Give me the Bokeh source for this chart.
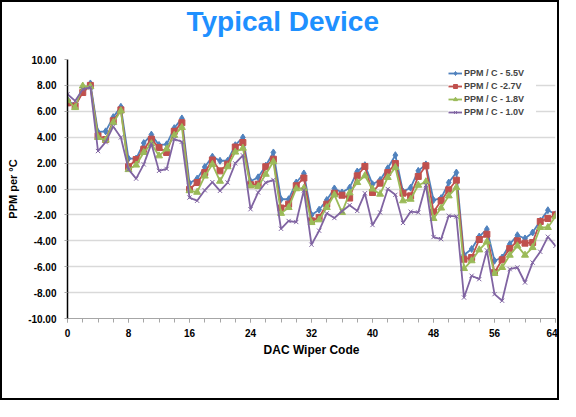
from bokeh.plotting import figure
from bokeh.models import (Range1d, SingleIntervalTicker, PrintfTickFormatter,
                          Legend, LegendItem, Title, ColumnDataSource)
from bokeh.embed import file_html
from bokeh.resources import INLINE

codes = list(range(65))

ppm_5v5 = [6.9, 6.4, 7.6, 8.15, 4.4, 4.45, 5.55, 6.35, 2.35, 2.35,
           3.55, 4.2, 3.4, 3.45, 4.7, 5.45, 0.45, 0.8, 1.7, 2.5,
           2.18, 2.18, 3.38, 3.98, 0.6, 0.9, 1.8, 2.82, -0.79, -0.79,
           0.5, 1.2, -2.0, -1.6, -0.85, 0.04, -0.27, 0.1, 1.35, 1.84,
           0.37, 0.7, 1.6, 2.61, -0.2, 0.1, 1.4, 1.9, -0.85, -0.7,
           0.5, 1.27, -5.1, -4.63, -3.67, -3.1, -5.54, -5.29, -4.26, -3.57,
           -3.82, -3.36, -2.46, -1.64, -1.95]

ppm_2v7 = [6.65, 6.42, 7.45, 8.0, 4.1, 3.82, 5.27, 6.11, 1.72, 2.27,
           3.07, 3.85, 3.2, 2.82, 4.45, 5.12, -0.03, 0.5, 1.27, 2.24,
           1.4, 1.92, 3.24, 3.59, 0.33, 0.37, 1.72, 2.3, -1.47, -1.17,
           0.25, 0.85, -2.46, -2.2, -1.17, -0.33, -0.48, -0.7, 1.02, 1.74,
           -0.27, 0.45, 1.27, 1.97, -0.32, -0.53, 0.97, 1.79, -1.78, -0.9,
           -0.06, 0.68, -5.42, -5.29, -3.9, -3.49, -6.45, -5.47, -4.6, -4.0,
           -4.18, -4.13, -2.51, -2.28, -1.99]

ppm_1v8 = [6.85, 6.29, 7.95, 7.9, 3.98, 3.78, 5.13, 6.04, 1.5, 1.85,
           2.82, 3.5, 2.56, 3.1, 4.15, 4.75, -0.13, -0.25, 1.0, 1.9,
           0.6, 1.72, 2.85, 3.15, 0.25, 0.2, 1.14, 2.1, -1.88, -1.43,
           0.02, 0.06, -2.59, -2.38, -1.43, -0.45, -1.81, -0.3, 0.5, 1.02,
           0.0, -0.4, 0.89, 1.66, -0.91, -0.79, 0.29, 0.56, -2.28, -1.47,
           -0.53, 0.12, -6.14, -5.54, -4.7, -4.08, -6.52, -6.06, -5.11, -4.39,
           -5.11, -4.52, -2.97, -2.97, -2.12]

ppm_1v0 = [7.32, 6.8, 7.7, 7.84, 2.93, 3.62, 4.83, 3.98, 1.52, 0.8,
           1.9, 3.5, 1.4, 1.55, 3.85, 3.65, -0.66, -0.91, -0.1, 0.53,
           -0.14, 0.5, 1.98, 2.6, -1.56, -0.27, 0.5, 0.7, -3.07, -2.47,
           -2.55, -0.1, -4.3, -3.22, -1.88, -2.24, -1.72, -1.25, -1.69, -0.33,
           -2.78, -1.81, 0.0, -0.45, -2.62, -1.75, -1.81, 0.3, -3.71, -3.87,
           -2.07, -2.12, -8.38, -6.7, -6.96, -4.74, -8.12, -8.63, -6.19, -6.06,
           -7.22, -5.68, -4.85, -3.69, -4.39]

series_names = ["PPM / C - 5.5V", "PPM / C -2.7V", "PPM / C - 1.8V", "PPM / C - 1.0V"]

p = figure(width=559, height=400, x_range=Range1d(0, 64), y_range=Range1d(-10, 10),
           output_backend="svg", toolbar_location=None,
           min_border_left=65, min_border_right=6, min_border_top=57, min_border_bottom=84)
p.styles = {"border": "2px solid black"}
p.outline_line_color = None

# spacer between frame and title (closest to the frame), then the title
spacer = Title(text=" ", text_font_size="1px", standoff=20)
p.add_layout(spacer, "above")
t = Title(text="Typical Device", text_font="Liberation Sans", text_font_size="28px",
          text_font_style="bold", text_color="#1E90FF", align="left", offset=119, standoff=0)
p.add_layout(t, "above")

# axes
p.xaxis.ticker = SingleIntervalTicker(interval=8, num_minor_ticks=4)
p.yaxis.ticker = SingleIntervalTicker(interval=2, num_minor_ticks=0)
p.yaxis.formatter = PrintfTickFormatter(format="%.2f")
p.xgrid.visible = False
p.ygrid.grid_line_color = "#d9d9d9"
p.ygrid.grid_line_width = 1.5

for ax in (p.xaxis[0], p.yaxis[0]):
    ax.major_label_text_font = "Liberation Sans"
    ax.major_label_text_font_style = "bold"
    ax.major_label_text_font_size = "10px"
    ax.major_label_text_color = "black"
    ax.axis_label_text_font = "Liberation Sans"
    ax.axis_label_text_font_style = "bold"
    ax.axis_label_text_color = "black"
    ax.major_tick_in = 0
    ax.minor_tick_in = 0

p.xaxis.axis_label = "DAC Wiper Code"
p.xaxis.axis_label_text_font_size = "12px"
p.xaxis.axis_line_color = "#a6a6a6"
p.xaxis.major_tick_line_color = "#a6a6a6"
p.xaxis.minor_tick_line_color = "#a6a6a6"
p.xaxis.major_tick_out = 4
p.xaxis.minor_tick_out = 4
p.xaxis.major_label_standoff = 6
p.xaxis.axis_label_standoff = 3

p.yaxis.axis_label = "PPM per °C"
p.yaxis.axis_label_text_font_size = "11px"
p.yaxis.axis_line_color = "black"
p.yaxis.axis_line_width = 1.5
p.yaxis.major_tick_line_color = "#a6a6a6"
p.yaxis.major_tick_out = 3
p.yaxis.minor_tick_out = 0
p.yaxis.major_label_standoff = 8
p.yaxis.axis_label_standoff = 6

src = ColumnDataSource(dict(x=codes, a=ppm_5v5, b=ppm_2v7, c=ppm_1v8, d=ppm_1v0))

specs = [("a", "#4F81BD", "diamond", 7), ("b", "#C0504D", "square", 6),
         ("c", "#9BBB59", "triangle", 7), ("d", "#8064A2", "x", 6)]
items = []
for (col, color, marker, size), name in zip(specs, series_names):
    ln = p.line("x", col, source=src, line_color=color, line_width=1.8)
    sc = p.scatter("x", col, source=src, marker=marker, size=size,
                   fill_color=color, line_color=color, line_width=1)
    items.append(LegendItem(label=name, renderers=[ln, sc]))

legend = Legend(items=items, location=(381, 201), border_line_color=None,
                background_fill_color="white", background_fill_alpha=1,
                label_text_font="Liberation Sans", label_text_font_style="bold",
                label_text_font_size="9px", label_height=10, glyph_height=10,
                glyph_width=14, label_width=72, spacing=3, padding=3,
                label_standoff=2, margin=0)
p.add_layout(legend, "center")

open("out.html", "w").write(file_html(p, INLINE))
